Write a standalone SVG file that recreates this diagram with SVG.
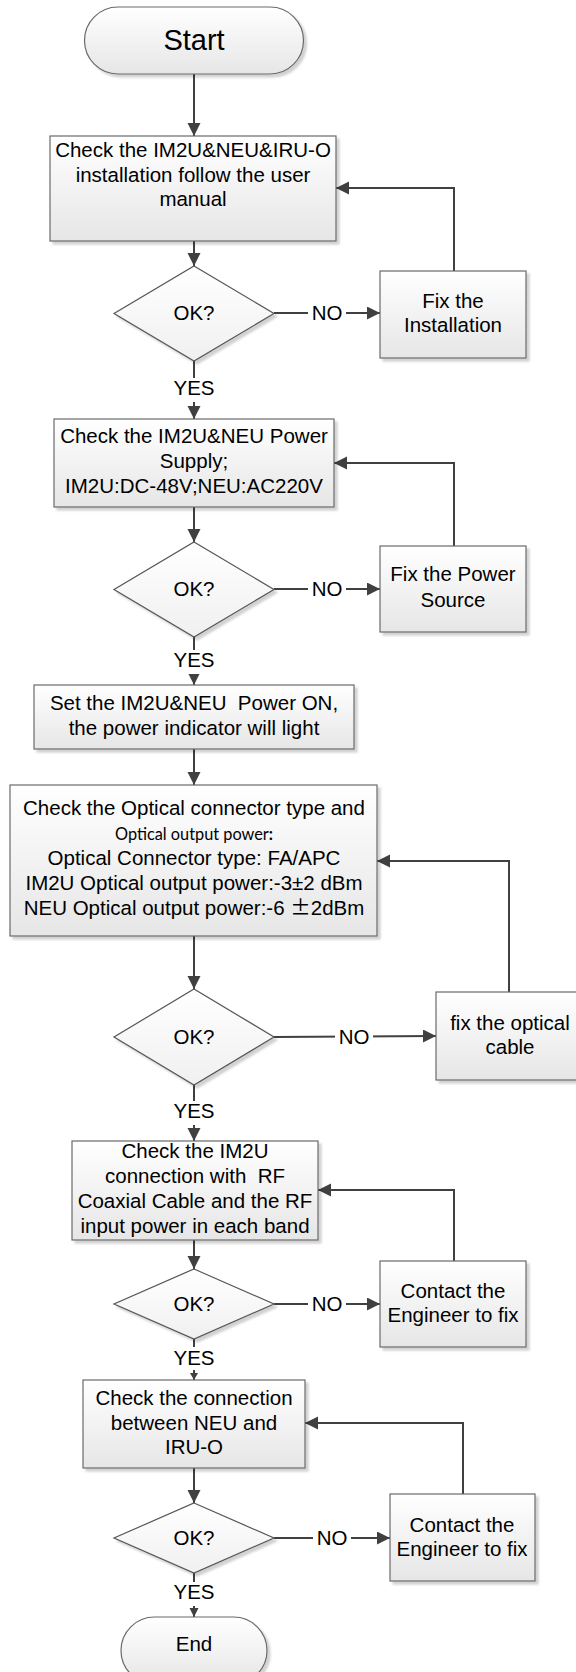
<svg xmlns="http://www.w3.org/2000/svg" width="576" height="1672" viewBox="0 0 576 1672">
<style>
text{font-family:"Liberation Sans",Arial,sans-serif;font-size:20.5px;fill:#000;text-anchor:middle}
.shape{fill:url(#g);stroke:#6a6a6a;stroke-width:1.2;filter:url(#sh)}
.dia{fill:url(#g2);stroke:#555;stroke-width:1.2;filter:url(#sh)}
.con{fill:none;stroke:#404040;stroke-width:2}
.lbl{fill:#fff}
.cal{font-family:Lato,"Noto Sans",sans-serif;font-size:17px}
</style>
<defs>
<linearGradient id="g" x1="0" y1="0" x2="0" y2="1"><stop offset="0" stop-color="#ffffff"/><stop offset="1" stop-color="#e6e6e6"/></linearGradient>
<linearGradient id="g2" x1="0" y1="0" x2="0" y2="1"><stop offset="0" stop-color="#ffffff"/><stop offset="1" stop-color="#f0f0f0"/></linearGradient>
<filter id="sh" x="-10%" y="-10%" width="130%" height="130%"><feDropShadow dx="3" dy="3" stdDeviation="1" flood-color="#000" flood-opacity="0.18"/></filter>
<marker id="a" markerUnits="userSpaceOnUse" markerWidth="14" markerHeight="14" refX="13" refY="6.5" orient="auto"><path d="M0,0 L13,6.5 L0,13 z" fill="#404040"/></marker>
<marker id="am" markerUnits="userSpaceOnUse" markerWidth="10" markerHeight="10" refX="9" refY="4.5" orient="auto"><path d="M0,0 L9,4.5 L0,9 z" fill="#404040"/></marker>
<marker id="as" markerUnits="userSpaceOnUse" markerWidth="9" markerHeight="9" refX="7" refY="4" orient="auto"><path d="M0,0 L7,4 L0,8 z" fill="#404040"/></marker>
</defs>

<g id="connectors">
<path class="con" d="M194,74 V136" marker-end="url(#a)"/>
<path class="con" d="M194,241 V266" marker-end="url(#a)"/>
<path class="con" d="M274,313 H380" marker-end="url(#a)"/>
<path class="con" d="M454,271 V188 H336" marker-end="url(#a)"/>
<path class="con" d="M194,361 V419" marker-end="url(#a)"/>
<path class="con" d="M194,507 V542" marker-end="url(#a)"/>
<path class="con" d="M274,589 H380" marker-end="url(#a)"/>
<path class="con" d="M454,546 V463 H334" marker-end="url(#a)"/>
<path class="con" d="M194,637 V685" marker-end="url(#a)"/>
<path class="con" d="M194,749 V785" marker-end="url(#a)"/>
<path class="con" d="M194,936 V989" marker-end="url(#a)"/>
<path class="con" d="M274,1037 L436,1036" marker-end="url(#a)"/>
<path class="con" d="M509,992 V861 H377" marker-end="url(#a)"/>
<path class="con" d="M194,1085 V1141" marker-end="url(#a)"/>
<path class="con" d="M194,1240 V1269" marker-end="url(#a)"/>
<path class="con" d="M274,1304 H380" marker-end="url(#a)"/>
<path class="con" d="M454,1261 V1190 H318" marker-end="url(#a)"/>
<path class="con" d="M194,1339 V1380" marker-end="url(#as)"/>
<path class="con" d="M194,1468 V1503" marker-end="url(#a)"/>
<path class="con" d="M274,1538 H390" marker-end="url(#a)"/>
<path class="con" d="M463,1494 V1423 H305" marker-end="url(#a)"/>
<path class="con" d="M194,1573 V1617" marker-end="url(#am)"/>
<rect class="lbl" x="308" y="302" width="38" height="22"/><text x="327" y="320">NO</text>
<rect class="lbl" x="308" y="578" width="38" height="22"/><text x="327" y="596">NO</text>
<rect class="lbl" x="335" y="1026" width="38" height="22"/><text x="354" y="1044">NO</text>
<rect class="lbl" x="308" y="1293" width="38" height="22"/><text x="327" y="1311">NO</text>
<rect class="lbl" x="313" y="1527" width="38" height="22"/><text x="332" y="1545">NO</text>
<rect class="lbl" x="170" y="378" width="48" height="24"/><text x="194" y="395">YES</text>
<rect class="lbl" x="170" y="650" width="48" height="24"/><text x="194" y="667">YES</text>
<rect class="lbl" x="170" y="1101" width="48" height="24"/><text x="194" y="1118">YES</text>
<rect class="lbl" x="170" y="1347" width="48" height="23"/><text x="194" y="1365">YES</text>
<rect class="lbl" x="170" y="1582" width="48" height="24"/><text x="194" y="1599">YES</text>
</g>

<g id="start"><rect class="shape" x="84.5" y="7" width="219" height="67" rx="33.5"/><text x="194" y="50" style="font-size:29px">Start</text></g>

<g id="check-install"><rect class="shape" x="50" y="136" width="286" height="105"/>
<text x="193" y="157">Check the IM2U&amp;NEU&amp;IRU-O</text><text x="193" y="182">installation follow the user</text><text x="193" y="206">manual</text></g>

<g id="ok1"><polygon class="dia" points="194,266 274,313.5 194,361 114,313.5"/><text x="194" y="320">OK?</text></g>

<g id="fix-install"><rect class="shape" x="380" y="271" width="146" height="87"/><text x="453" y="308">Fix the</text><text x="453" y="332">Installation</text></g>

<g id="check-power"><rect class="shape" x="54" y="419" width="280" height="88"/>
<text x="194" y="443">Check the IM2U&amp;NEU Power</text><text x="194" y="468">Supply;</text><text x="194" y="493">IM2U:DC-48V;NEU:AC220V</text></g>

<g id="ok2"><polygon class="dia" points="194,542 274,589.5 194,637 114,589.5"/><text x="194" y="596">OK?</text></g>

<g id="fix-power"><rect class="shape" x="380" y="546" width="146" height="86"/><text x="453" y="581">Fix the Power</text><text x="453" y="607">Source</text></g>

<g id="power-on"><rect class="shape" x="34" y="685" width="320" height="64"/>
<text x="194" y="710" xml:space="preserve">Set the IM2U&amp;NEU  Power ON,</text><text x="194" y="735">the power indicator will light</text></g>

<g id="check-optical"><rect class="shape" x="10" y="785" width="367" height="151"/>
<text x="194" y="815">Check the Optical connector type and</text>
<text x="194" y="840" class="cal" textLength="158" lengthAdjust="spacingAndGlyphs">Optical output power<tspan font-weight="bold">:</tspan></text>
<text x="194" y="865">Optical Connector type: FA/APC</text>
<text x="194" y="890">IM2U Optical output power:-3±2 dBm</text>
<text x="194" y="915">NEU Optical output power:-6 <tspan style="font-family:'Noto Sans CJK SC',sans-serif">±</tspan>2dBm</text></g>

<g id="ok3"><polygon class="dia" points="194,989 274,1037 194,1085 114,1037"/><text x="194" y="1044">OK?</text></g>

<g id="fix-optical"><rect class="shape" x="436" y="992" width="148" height="88"/><text x="510" y="1030">fix the optical</text><text x="510" y="1054">cable</text></g>

<g id="check-rf"><rect class="shape" x="72" y="1141" width="246" height="99"/>
<text x="195" y="1158">Check the IM2U</text><text x="195" y="1183" xml:space="preserve">connection with  RF</text><text x="195" y="1208">Coaxial Cable and the RF</text><text x="195" y="1233">input power in each band</text></g>

<g id="ok4"><polygon class="dia" points="194,1269 274,1304 194,1339 114,1304"/><text x="194" y="1311">OK?</text></g>

<g id="contact1"><rect class="shape" x="380" y="1261" width="146" height="86"/><text x="453" y="1298">Contact the</text><text x="453" y="1322">Engineer to fix</text></g>

<g id="check-conn"><rect class="shape" x="83" y="1380" width="222" height="88"/>
<text x="194" y="1405">Check the connection</text><text x="194" y="1430">between NEU and</text><text x="194" y="1454">IRU-O</text></g>

<g id="ok5"><polygon class="dia" points="194,1503 274,1538 194,1573 114,1538"/><text x="194" y="1545">OK?</text></g>

<g id="contact2"><rect class="shape" x="390" y="1494" width="145" height="87"/><text x="462" y="1532">Contact the</text><text x="462" y="1556">Engineer to fix</text></g>

<g id="end"><rect class="shape" x="121" y="1617" width="146" height="67" rx="33.5"/><text x="194" y="1651" style="font-size:20.5px">End</text></g>
</svg>
